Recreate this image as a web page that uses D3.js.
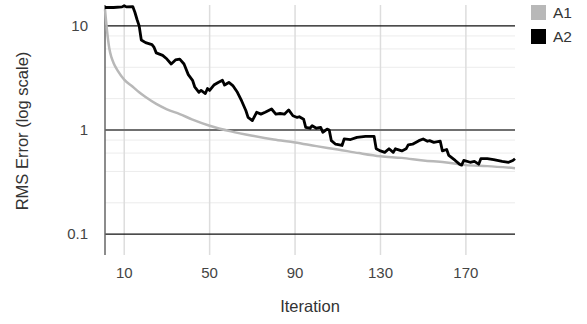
<!DOCTYPE html>
<html>
<head>
<meta charset="utf-8">
<script src="https://cdn.jsdelivr.net/npm/d3@7"></script>
<style>
body { margin: 0; background: #fff; }
text { font-family: "Liberation Sans", Arial, sans-serif; }
</style>
</head>
<body>
<svg></svg>
<script>
//Size
var svgWidth = 587;
var svgHeight = 324;

//Data
var seriesNames = ["A1", "A2"];
var seriesColors = ["#b8b8b8", "#000000"];
var xTicks = [10, 50, 90, 130, 170];
var yTicks = [0.1, 1, 10];
var yMinorTicks = [0.2, 0.4, 0.6, 0.8, 2, 4, 6, 8];

var a1Iter = [1, 2, 3, 4, 5, 7, 10, 14, 17, 20, 25, 30, 36, 42, 50, 60, 70, 80, 90, 100,
              110, 120, 130, 140, 150, 160, 170, 180, 193];
var a1Vals = [14.4, 8.8, 6.1, 5.0, 4.4, 3.7, 3.05, 2.6, 2.3, 2.07, 1.78, 1.58, 1.42, 1.26, 1.10, 0.97, 0.88, 0.81, 0.76, 0.70,
              0.65, 0.60, 0.56, 0.54, 0.51, 0.49, 0.46, 0.45, 0.43];

var a2Iter = [1, 5, 9, 10, 11, 14, 15, 16, 17, 18, 20, 23, 24, 25, 28, 30, 32, 34, 36, 38,
              40, 42, 43, 45, 46, 48, 49, 50, 52, 54, 56, 57, 59, 61, 63, 65, 67, 68, 70, 72,
              74, 76, 79, 81, 83, 85, 87, 89, 91, 92, 94, 95, 97, 98, 100, 102, 103, 105, 106, 107,
              109, 112, 113, 116, 119, 123, 127, 128, 130, 132, 134, 136, 137, 140, 142, 143, 145, 148, 150, 152,
              153, 155, 158, 159, 161, 162, 165, 167, 168, 169, 172, 174, 176, 177, 180, 183, 187, 190, 192, 193];
var a2Vals = [15.0, 15.0, 15.2, 15.6, 15.2, 15.3, 13.5, 11.5, 10.0, 7.3, 6.9, 6.6, 6.2, 5.5, 5.2, 4.8, 4.3, 4.7, 4.8, 4.3,
              3.4, 3.0, 2.6, 2.3, 2.4, 2.24, 2.5, 2.4, 2.7, 2.86, 3.0, 2.7, 2.86, 2.65, 2.3, 1.9, 1.53, 1.32, 1.23, 1.48,
              1.42, 1.48, 1.59, 1.42, 1.44, 1.42, 1.56, 1.37, 1.32, 1.34, 1.27, 1.06, 1.04, 1.10, 1.04, 1.06, 0.95, 1.02, 1.0, 0.79,
              0.73, 0.71, 0.82, 0.81, 0.85, 0.87, 0.87, 0.66, 0.63, 0.61, 0.66, 0.61, 0.66, 0.63, 0.66, 0.72, 0.73, 0.79, 0.82, 0.78,
              0.79, 0.76, 0.78, 0.63, 0.65, 0.57, 0.51, 0.47, 0.46, 0.51, 0.49, 0.50, 0.47, 0.53, 0.53, 0.52, 0.50, 0.49, 0.51, 0.53];

var plotLeft = 105, plotRight = 515, plotTop = 5, plotBottom = 255;

var svg = d3.select("svg")
    .attr("width", svgWidth)
    .attr("height", svgHeight);

var x = d3.scaleLinear().domain([1, 193]).range([plotLeft, plotRight]);
var y = d3.scaleLog().domain([Math.pow(10, -1.2), Math.pow(10, 1.2)]).range([plotBottom, plotTop]);

// minor gridlines
svg.append("g")
    .selectAll("line")
    .data(yMinorTicks)
    .enter()
    .append("line")
    .attr("x1", plotLeft).attr("x2", plotRight)
    .attr("y1", function (d) { return y(d); })
    .attr("y2", function (d) { return y(d); })
    .attr("stroke", "#ececec")
    .attr("stroke-width", 1);

// vertical gridlines
svg.append("g")
    .selectAll("line")
    .data(xTicks)
    .enter()
    .append("line")
    .attr("x1", function (d) { return x(d); })
    .attr("x2", function (d) { return x(d); })
    .attr("y1", plotTop).attr("y2", plotBottom)
    .attr("stroke", "#dddddd")
    .attr("stroke-width", 1.5);

// major gridlines
svg.append("g")
    .selectAll("line")
    .data(yTicks)
    .enter()
    .append("line")
    .attr("x1", plotLeft).attr("x2", plotRight)
    .attr("y1", function (d) { return y(d); })
    .attr("y2", function (d) { return y(d); })
    .attr("stroke", function (d) { return d === 1 ? "#707070" : "#111"; })
    .attr("stroke-width", function (d) { return d === 1 ? 2 : 1.3; });

// left axis line
svg.append("line")
    .attr("x1", plotLeft).attr("x2", plotLeft)
    .attr("y1", plotTop).attr("y2", plotBottom)
    .attr("stroke", "#666")
    .attr("stroke-width", 1.5);

// tick labels
svg.append("g")
    .selectAll("text")
    .data(xTicks)
    .enter()
    .append("text")
    .attr("x", function (d) { return x(d); })
    .attr("y", 278)
    .attr("text-anchor", "middle")
    .attr("font-size", 15)
    .attr("fill", "#444")
    .text(function (d) { return d; });

svg.append("g")
    .selectAll("text")
    .data(yTicks)
    .enter()
    .append("text")
    .attr("x", 88)
    .attr("y", function (d) { return y(d) + 5; })
    .attr("text-anchor", "end")
    .attr("font-size", 15)
    .attr("fill", "#444")
    .text(function (d) { return d; });

// axis titles
svg.append("text")
    .attr("x", 310)
    .attr("y", 312)
    .attr("text-anchor", "middle")
    .attr("font-size", 16.5)
    .attr("fill", "#333")
    .text("Iteration");

svg.append("text")
    .attr("transform", "translate(28,131) rotate(-90)")
    .attr("text-anchor", "middle")
    .attr("font-size", 16.5)
    .attr("fill", "#333")
    .text("RMS Error (log scale)");

// series lines
var line = d3.line()
    .x(function (d) { return x(d[0]); })
    .y(function (d) { return y(d[1]); });

svg.append("path")
    .datum(d3.zip(a1Iter, a1Vals))
    .attr("fill", "none")
    .attr("stroke", seriesColors[0])
    .attr("stroke-width", 2.5)
    .attr("d", line.curve(d3.curveMonotoneX));

svg.append("path")
    .datum(d3.zip(a2Iter, a2Vals))
    .attr("fill", "none")
    .attr("stroke", seriesColors[1])
    .attr("stroke-width", 2.8)
    .attr("stroke-linejoin", "round")
    .attr("d", line.curve(d3.curveLinear));

// legend
var legend = svg.append("g")
    .selectAll("g")
    .data(seriesNames)
    .enter()
    .append("g")
    .attr("transform", function (d, i) { return "translate(531," + (5 + i * 24) + ")"; });

legend.append("rect")
    .attr("width", 15).attr("height", 15)
    .attr("fill", function (d, i) { return seriesColors[i]; });

legend.append("text")
    .attr("x", 22)
    .attr("y", 13)
    .attr("font-size", 15.5)
    .attr("fill", "#333")
    .text(function (d) { return d; });
</script>
</body>
</html>
